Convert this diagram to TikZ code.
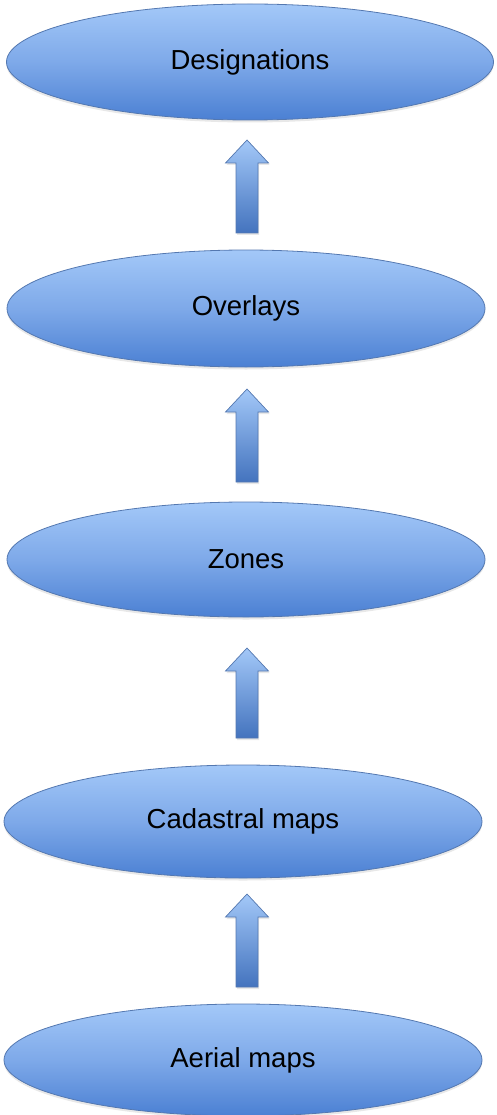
\documentclass[tikz,border=0pt]{standalone}
\usepackage{fontspec}
\setmainfont{Liberation Sans}
\usetikzlibrary{shapes.geometric,shadows}
\definecolor{eltop}{HTML}{A3C8F8}
\definecolor{elmid}{HTML}{7EA9E9}
\definecolor{elbot}{HTML}{4B80D3}
\definecolor{eldraw}{HTML}{5478B0}
\tikzset{
  stage/.style={ellipse, draw=eldraw, line width=0.8pt, inner sep=0pt,
    minimum width=478pt, minimum height=115pt,
    top color=eltop, bottom color=elbot, middle color=elmid,
    drop shadow={opacity=0.18, shadow xshift=0pt, shadow yshift=-2.5pt},
    font=\fontsize{27.5}{32}\selectfont, text=black},
  uparrow/.style={draw=eldraw, line width=0.7pt, line join=miter,
    top color=eltop, bottom color=elbot!90!black,
    drop shadow={opacity=0.18, shadow xshift=1pt, shadow yshift=-2pt}}
}
% #1 = tip y, #2 = bottom y
\newcommand{\blockarrow}[2]{%
  \path[uparrow] (247,#1) -- (268.5,#1+23) -- (258,#1+23) -- (258,#2)
    -- (236,#2) -- (236,#1+23) -- (225.5,#1+23) -- cycle;}
\begin{document}
\begin{tikzpicture}[x=1pt,y=-1pt]
\useasboundingbox (0,0) rectangle (496,1115);
\node[stage, minimum width=487pt, minimum height=116pt] (des) at (250,62) {Designations};
\node[stage, minimum height=117pt] (ovl) at (246,308.5) {Overlays};
\node[stage] (zon) at (246,559.5) {Zones};
\node[stage, minimum height=113pt] (cad) at (243,821.5) {Cadastral maps};
\node[stage, minimum height=112pt] (aer) at (243,1060) {Aerial maps};
\blockarrow{140}{233}
\blockarrow{389}{482}
\blockarrow{648}{738}
\blockarrow{894}{987}
\end{tikzpicture}
\end{document}
